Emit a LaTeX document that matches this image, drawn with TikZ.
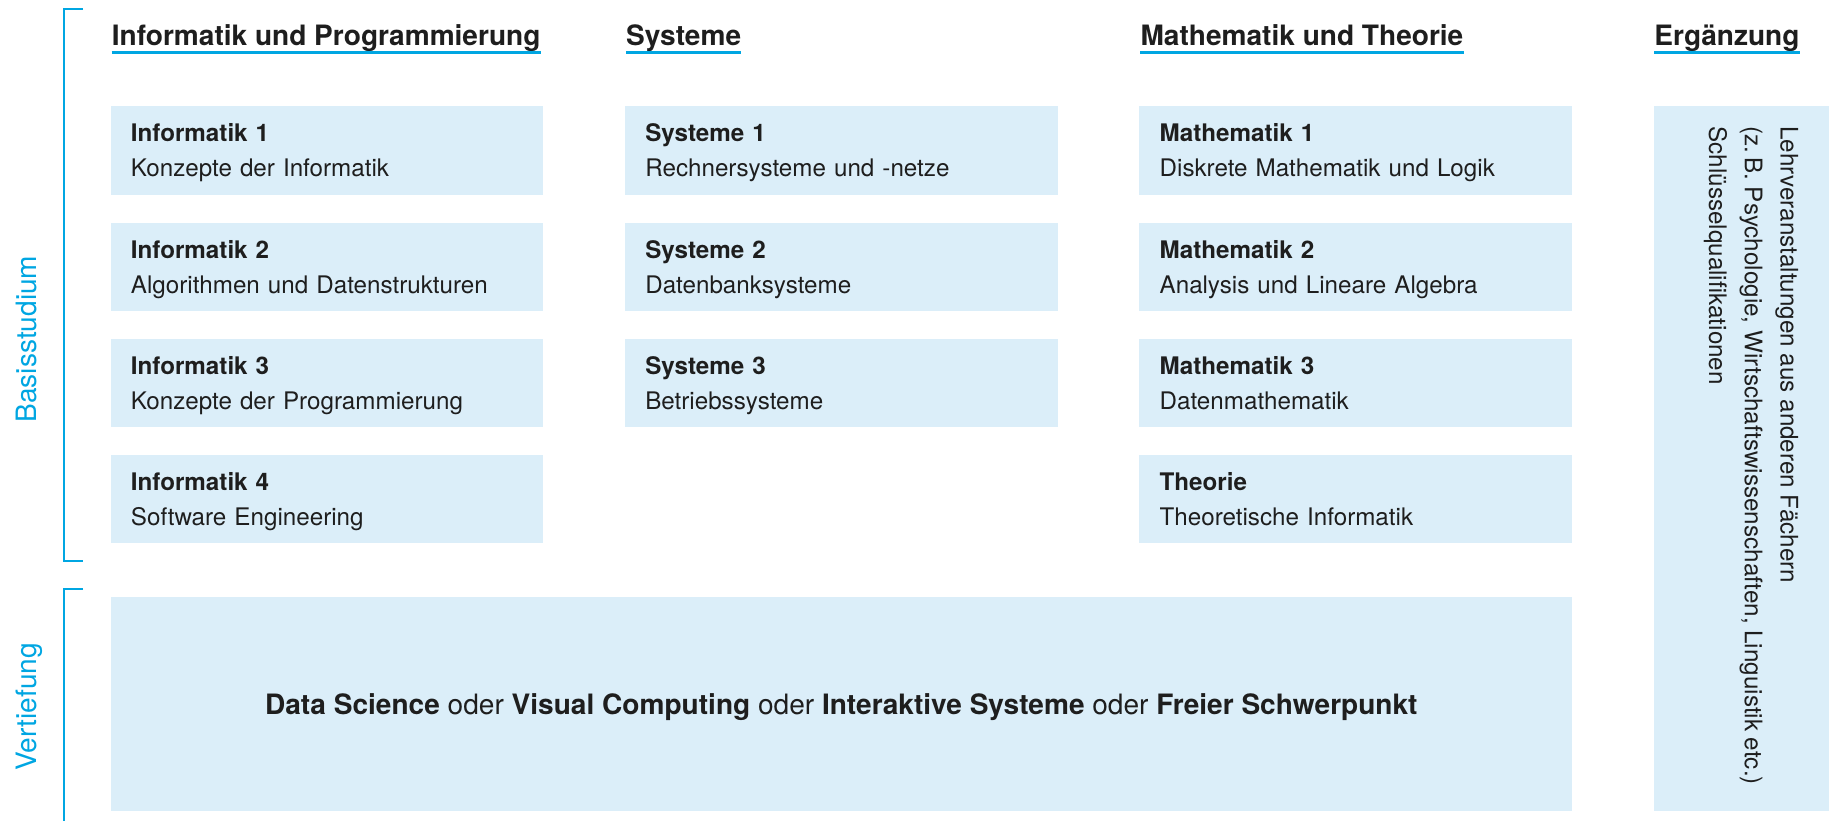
\documentclass[tikz,border=0pt]{standalone}
\usepackage{fontspec}
\setmainfont{TeX Gyre Heros}
\usepackage{tikz}

\definecolor{blau}{RGB}{0,166,226}
\definecolor{boxblau}{RGB}{219,238,249}
\definecolor{schrift}{RGB}{30,30,30}

\newcommand{\kurs}[2]{\rule{0pt}{30.5pt}\textbf{#1}\\#2\rule[-15pt]{0pt}{15pt}}

\tikzset{
  modul/.style={fill=boxblau, anchor=north west, inner xsep=17.3pt, inner ysep=0pt,
    text width=335.4pt, align=left, text=schrift, font=\fontsize{20.7}{30}\selectfont},
  kopf/.style={anchor=base west, inner sep=0pt, text=schrift, font=\fontsize{24}{28}\selectfont\bfseries},
  unterstrich/.style={draw=blau, line width=2.4pt},
  klammer/.style={draw=blau, line width=1.8pt},
  seite/.style={rotate=90, anchor=base, inner sep=0pt, text=blau, font=\fontsize{24}{28}\selectfont}
}

\begin{document}
\begin{tikzpicture}[x=1pt,y=-1pt]
\useasboundingbox (0,0) rectangle (1568,702);

\node[kopf] (hinf) at (95.5,38.5) {Informatik und Programmierung};
\node[kopf] (hsys) at (535.5,38.5) {Systeme};
\node[kopf] (hmat) at (975.5,38.5) {Mathematik und Theorie};
\node[kopf] (herg) at (1415,38.5) {Ergänzung};
\foreach \h in {hinf,hsys,hmat,herg}
  \path[unterstrich] ([yshift=-6.5pt]\h.base west) -- ([yshift=-6.5pt]\h.base east);

\foreach \i/\sub in {1/Konzepte der Informatik,2/Algorithmen und Datenstrukturen,3/Konzepte der Programmierung,4/Software Engineering}
  \node[modul] (inf\i) at (94.5,{90.7+99.5*(\i-1)}) {\kurs{Informatik \i}{\sub}};
\foreach \i/\sub in {1/Rechnersysteme und -netze,2/Datenbanksysteme,3/Betriebssysteme}
  \node[modul] (sys\i) at (534.5,{90.7+99.5*(\i-1)}) {\kurs{Systeme \i}{\sub}};
\foreach \i/\titel/\sub in {1/Mathematik 1/Diskrete Mathematik und Logik,2/Mathematik 2/Analysis und Lineare Algebra,3/Mathematik 3/Datenmathematik,4/Theorie/Theoretische Informatik}
  \node[modul] (mat\i) at (974.5,{90.7+99.5*(\i-1)}) {\kurs{\titel}{\sub}};

\node[fill=boxblau, anchor=north west, inner sep=0pt, minimum width=149.5pt, minimum height=603.1pt] (erg) at (1414.5,90.7) {};
\node[rotate=-90, anchor=north west, inner sep=0pt, align=left, text=schrift,
  font=\fontsize{20.7}{30.5}\selectfont] (ergtext) at ([xshift=-26pt,yshift=-17.3pt]erg.north east)
  {Lehrveranstaltungen aus anderen Fächern\\(z.\,B. Psychologie, Wirtschaftswissenschaften, Linguistik etc.)\\Schlüsselqualifikationen};

\node[fill=boxblau, anchor=north west, inner sep=0pt, minimum width=1250pt, minimum height=183pt,
  text height=17.5pt, text depth=0pt, text=schrift, font=\fontsize{24}{28}\selectfont] (vert) at (94.5,510.7)
  {\textbf{Data Science} oder \textbf{Visual Computing} oder \textbf{Interaktive Systeme} oder \textbf{Freier Schwerpunkt}};

\path[klammer] (71,7.7) -| (54.7,480) -- (71,480);
\path[klammer] (71,503.5) -| (54.7,702);
\node[seite] (basis) at (30.8,290) {Basisstudium};
\node[seite] (vertief) at (30.8,604.5) {Vertiefung};
\end{tikzpicture}
\end{document}
